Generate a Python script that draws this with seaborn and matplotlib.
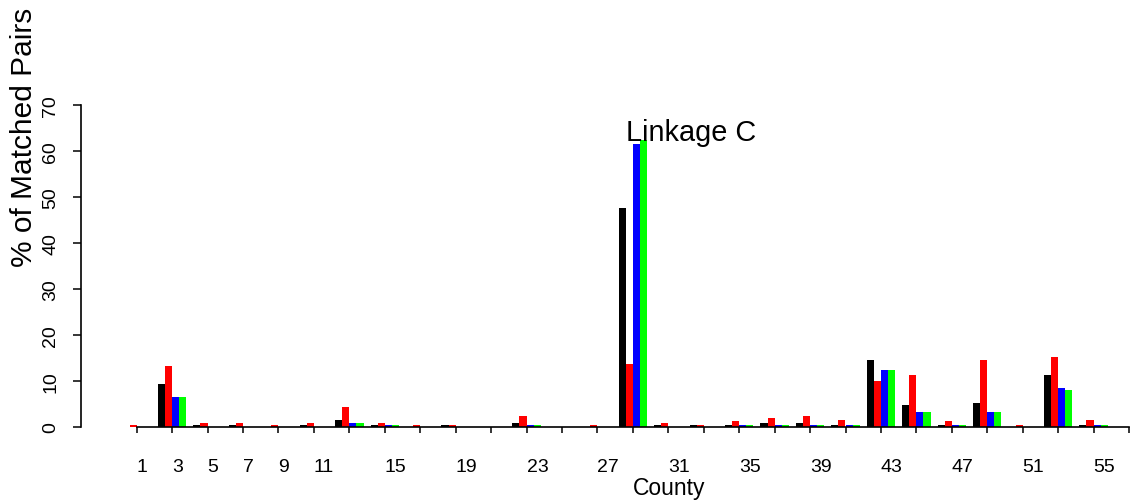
import matplotlib
matplotlib.use("Agg")
import matplotlib.pyplot as plt
import numpy as np
import pandas as pd
import seaborn as sns

# County groups (odd-numbered county codes) and the four linkage variants
counties = ["1", "3", "5", "7", "9", "11", "13", "15", "17", "19", "21", "23", "25", "27",
            "29", "31", "33", "35", "37", "39", "41", "43", "45", "47", "49", "51", "53",
            "55", "57"]
tick_labels = ["1", "3", "5", "7", "9", "11", "", "15", "", "19", "", "23", "", "27",
               "", "31", "", "35", "", "39", "", "43", "", "47", "", "51", "", "55", ""]

series_names = ["v1", "v2", "v3", "v4"]
series_colors = ["#000000", "#FF0000", "#0000FF", "#00FF00"]

pct_v1 = [0, 9.3, 0.4, 0.4, 0, 0.4, 1.5, 0.4, 0, 0.4, 0, 0.8, 0, 0, 47.6, 0.4, 0.4,
          0.4, 0.8, 0.8, 0.4, 14.6, 4.8, 0.4, 5.2, 0, 11.3, 0.4, 0]
pct_v2 = [0.4, 13.3, 0.9, 0.9, 0.4, 0.9, 4.3, 0.8, 0.4, 0.4, 0, 2.4, 0, 0.4, 13.6, 0.8,
          0.4, 1.3, 1.9, 2.4, 1.45, 10.0, 11.3, 1.3, 14.6, 0.4, 15.2, 1.5, 0]
pct_v3 = [0, 6.5, 0, 0, 0, 0, 0.9, 0.4, 0, 0, 0, 0.4, 0, 0, 61.5, 0, 0, 0.4, 0.4, 0.4,
          0.4, 12.4, 3.3, 0.4, 3.3, 0, 8.5, 0.4, 0]
pct_v4 = [0, 6.5, 0, 0, 0, 0, 0.9, 0.4, 0, 0, 0, 0.4, 0, 0, 62.4, 0, 0, 0.4, 0.4, 0.4,
          0.4, 12.4, 3.3, 0.4, 3.3, 0, 8.0, 0.4, 0]

frames = []
for name, vals in zip(series_names, [pct_v1, pct_v2, pct_v3, pct_v4]):
    frames.append(pd.DataFrame({"county": counties, "pct": vals, "variant": name}))
df = pd.concat(frames, ignore_index=True)

sns.set_style("white")
plt.rcParams["font.family"] = ["Liberation Sans", "DejaVu Sans"]
plt.rcParams["text.color"] = "black"
plt.rcParams["axes.labelcolor"] = "black"
plt.rcParams["xtick.color"] = "black"
plt.rcParams["ytick.color"] = "black"

W, H = 1133, 502
fig = plt.figure(figsize=(W / 100, H / 100), dpi=100)

px_per_unit_y = 4.6
y0_px = 427.7           # pixel row of y = 0
top_px = 10
ax = fig.add_axes([81 / W, (H - y0_px) / H, (W - 81) / W, (y0_px - top_px) / H])

sns.barplot(data=df, x="county", y="pct", hue="variant", order=counties,
            hue_order=series_names, palette=series_colors, saturation=1,
            width=0.8, linewidth=0, errorbar=None, legend=False, ax=ax)

group_px = 35.44
first_px = 136.7
ax.set_xlim((81 - first_px) / group_px, (W - first_px) / group_px)
ax.set_ylim(0, (y0_px - top_px) / px_per_unit_y)

for s in ["top", "right"]:
    ax.spines[s].set_visible(False)
ax.spines["left"].set_bounds(0, 70)
ax.spines["bottom"].set_bounds(0, len(counties) - 1)
for s in ["left", "bottom"]:
    ax.spines[s].set_color("black")
    ax.spines[s].set_linewidth(1.2)

ax.set_yticks(np.arange(0, 71, 10))
ax.set_yticklabels([str(v) for v in range(0, 71, 10)], rotation=90, va="center")
ax.tick_params(axis="y", direction="out", length=5.8, width=1.1, color="black",
               labelcolor="black", labelsize=14, pad=10, left=True)

ax.set_xticks(np.arange(len(counties)))
ax.set_xticklabels(tick_labels, ha="left")
ax.tick_params(axis="x", direction="out", length=4.6, width=1.1, color="black",
               labelcolor="black", labelsize=14, pad=18, bottom=True)

ax.set_xlabel("")
ax.set_ylabel("")
ax.grid(False)

fig.text(668.7 / W, 1 - 495 / H, "County", fontsize=16.5, ha="center",
         va="baseline", color="black")
fig.text(24 / W, 1 - 137 / H, "% of Matched Pairs", fontsize=21.5, rotation=90,
         ha="center", va="center", color="black")
fig.text(691.5 / W, 1 - 141 / H, "Linkage C", fontsize=20.8, ha="center",
         va="baseline", color="black")

fig.savefig("out.png", dpi=100)
